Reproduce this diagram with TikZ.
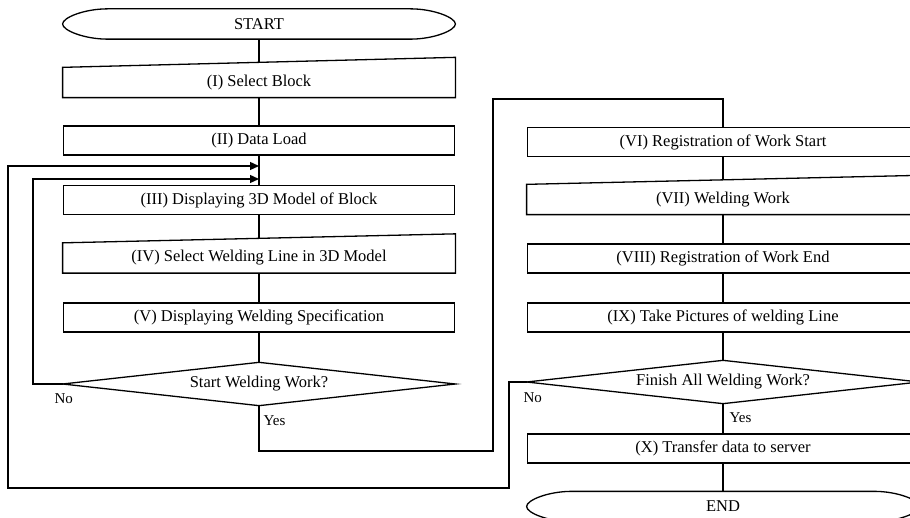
\documentclass[tikz,border=0pt]{standalone}
\usepackage{fontspec}
\setmainfont{Liberation Serif}
\usetikzlibrary{arrows.meta,calc}
\begin{document}
\begin{tikzpicture}[x=1pt,y=-1pt, line width=1.3pt, line join=miter,
  every node/.style={inner sep=0pt, font=\fontsize{16.5}{18}\selectfont},
  box/.style={draw, minimum width=391.5pt, minimum height=29pt},
  plain/.style={minimum width=391.5pt, minimum height=29pt},
  dia/.style={minimum width=391.5pt, minimum height=42pt},
  lbl/.style={anchor=west, font=\fontsize{15}{17}\selectfont},
  arr/.style={-{Triangle[length=9pt,width=8pt]}}]
\useasboundingbox (0,0) rectangle (910,518);

% left column
\node[plain] (start) at (259,24) {START};
\node[plain] (b1) at (259,82.5) {(I) Select Block};
\node[box] (b2) at (259,140.5) {(II) Data Load};
\node[box] (b3) at (259,200) {(III) Displaying 3D Model of Block};
\node[plain] (b4) at (259,258) {(IV) Select Welding Line in 3D Model};
\node[box] (b5) at (259,317.5) {(V) Displaying Welding Specification};
\node[dia] (d1) at (259,384) {Start Welding Work?};

% right column
\node[box] (b6) at (723,142) {(VI) Registration of Work Start};
\node[plain] (b7) at (723,199.5) {(VII) Welding Work};
\node[box] (b8) at (723,258.5) {(VIII) Registration of Work End};
\node[box] (b9) at (723,317.5) {(IX) Take Pictures of welding Line};
\node[dia] (d2) at (723,382) {Finish All Welding Work?};
\node[box] (b10) at (723,448.5) {(X) Transfer data to server};
\node[plain] (end) at (723,506.5) {END};

% terminals
\foreach \t in {start,end}{
\draw ([xshift=45pt]\t.north west) -- ([xshift=-45pt]\t.north east)
  .. controls ([xshift=-22pt]\t.north east) and ([yshift=6.5pt]\t.east) .. (\t.east)
  .. controls ([yshift=-6.5pt]\t.east) and ([xshift=-22pt]\t.south east) .. ([xshift=-45pt]\t.south east)
  -- ([xshift=45pt]\t.south west)
  .. controls ([xshift=22pt]\t.south west) and ([yshift=-6.5pt]\t.west) .. (\t.west)
  .. controls ([yshift=6.5pt]\t.west) and ([xshift=22pt]\t.north west) .. ([xshift=45pt]\t.north west);
}
% manual input boxes
\draw (b1.south west) -- (b1.south east) -- ([yshift=10pt]b1.north east) -- (b1.north west) -- cycle;
\draw (b4.south west) -- (b4.south east) -- ([yshift=9pt]b4.north east) -- (b4.north west) -- cycle;
\draw (b7.south west) -- (b7.south east) -- ([yshift=9pt]b7.north east) -- (b7.north west) -- cycle;
% diamonds
\draw (d1.west) -- (d1.north) -- (d1.east) -- (d1.south) -- cycle;
\draw (d2.west) -- (d2.north) -- (d2.east) -- (d2.south) -- cycle;

% labels
\node[lbl] (no1) at (54,399) {No};
\node[lbl] (yes1) at (263,421) {Yes};
\node[lbl] (no2) at (523,398) {No};
\node[lbl] (yes2) at (729,418) {Yes};

% coordinates for loop arrows
\coordinate (in1) at (259,166);
\coordinate (in2) at (259,179);

% connectors
\draw (start.south) -- ([yshift=5pt]b1.north);
\draw (b1.south) -- (b2.north);
\draw (b2.south) -- (b3.north);
\draw (b3.south) -- ([yshift=4.5pt]b4.north);
\draw (b4.south) -- (b5.north);
\draw (b5.south) -- (d1.north);
\draw[arr] (d1.west) -- (33,384) -- (33,179) -- (in2);
\draw (d1.south) -- (259,451) -- (493,451) -- (493,99) -- (723,99) -- (b6.north);
\draw (b6.south) -- ([yshift=4.5pt]b7.north);
\draw (b7.south) -- (b8.north);
\draw (b8.south) -- (b9.north);
\draw (b9.south) -- (d2.north);
\draw (d2.south) -- (b10.north);
\draw (b10.south) -- (end.north);
\draw[arr] (d2.west) -- (509,382) -- (509,488) -- (8,488) -- (8,166) -- (in1);
\end{tikzpicture}
\end{document}
